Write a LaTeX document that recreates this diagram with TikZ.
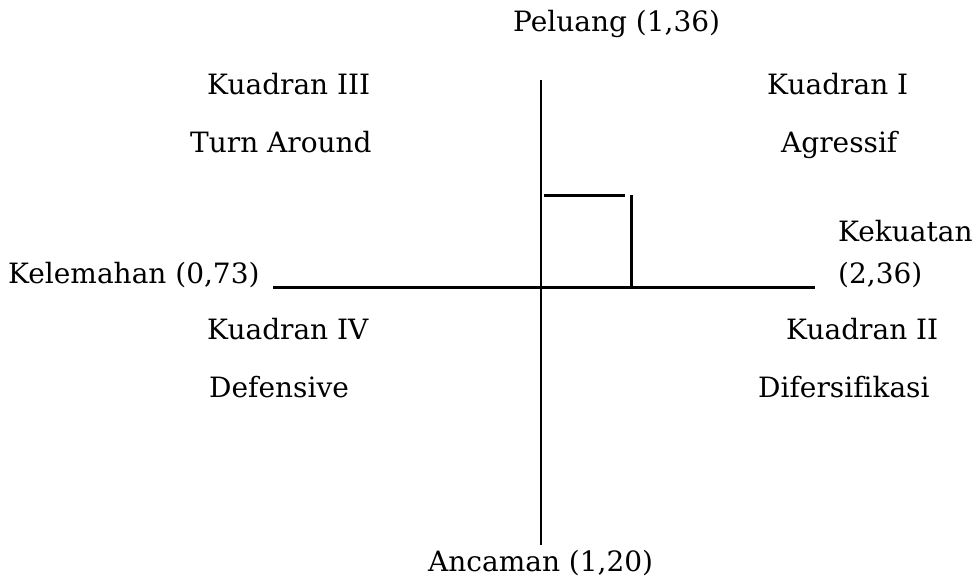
\documentclass[tikz,border=0pt]{standalone}
\usepackage{fontspec}
\setmainfont[Ligatures=NoCommon]{DejaVu Serif}
\begin{document}
\begin{tikzpicture}[x=1pt,y=-1pt,
  lbl/.style={inner sep=0pt,anchor=mid west,font=\fontsize{28}{32}\selectfont},
  axis/.style={line width=1.5pt},
  bold/.style={line width=3pt}]
\useasboundingbox (0,0) rectangle (976,577);
% axes
\coordinate (vtop) at (541,80);
\coordinate (vbot) at (541,545);
\coordinate (hl) at (273,287);
\coordinate (hr) at (815,287);
\draw[axis] (vtop) -- (vbot);
\draw[bold] (hl) -- (hr);
% position marker
\coordinate (ma) at (544,196);
\coordinate (mb) at (625,196);
\coordinate (mc) at (631,195);
\coordinate (md) at (631,287);
\draw[bold] (ma) -- (mb);
\draw[bold] (mc) -- (md);
% labels
\node[lbl] (peluang) at (513,29) {Peluang (1,36)};
\node[lbl] (k3) at (207,92) {Kuadran III};
\node[lbl] (ta) at (190,150) {Turn Around};
\node[lbl] (k1) at (767,92) {Kuadran I};
\node[lbl] (ag) at (781,150) {Agressif};
\node[lbl] (kel) at (8,281) {Kelemahan (0,73)};
\node[lbl] (kek) at (838,239) {Kekuatan};
\node[lbl] (kekv) at (838,281) {(2,36)};
\node[lbl] (k4) at (207,337) {Kuadran IV};
\node[lbl] (def) at (209,395) {Defensive};
\node[lbl] (k2) at (786,337) {Kuadran II};
\node[lbl] (dif) at (758,395) {Difersifikasi};
\node[lbl] (anc) at (428,569) {Ancaman (1,20)};
\end{tikzpicture}
\end{document}
